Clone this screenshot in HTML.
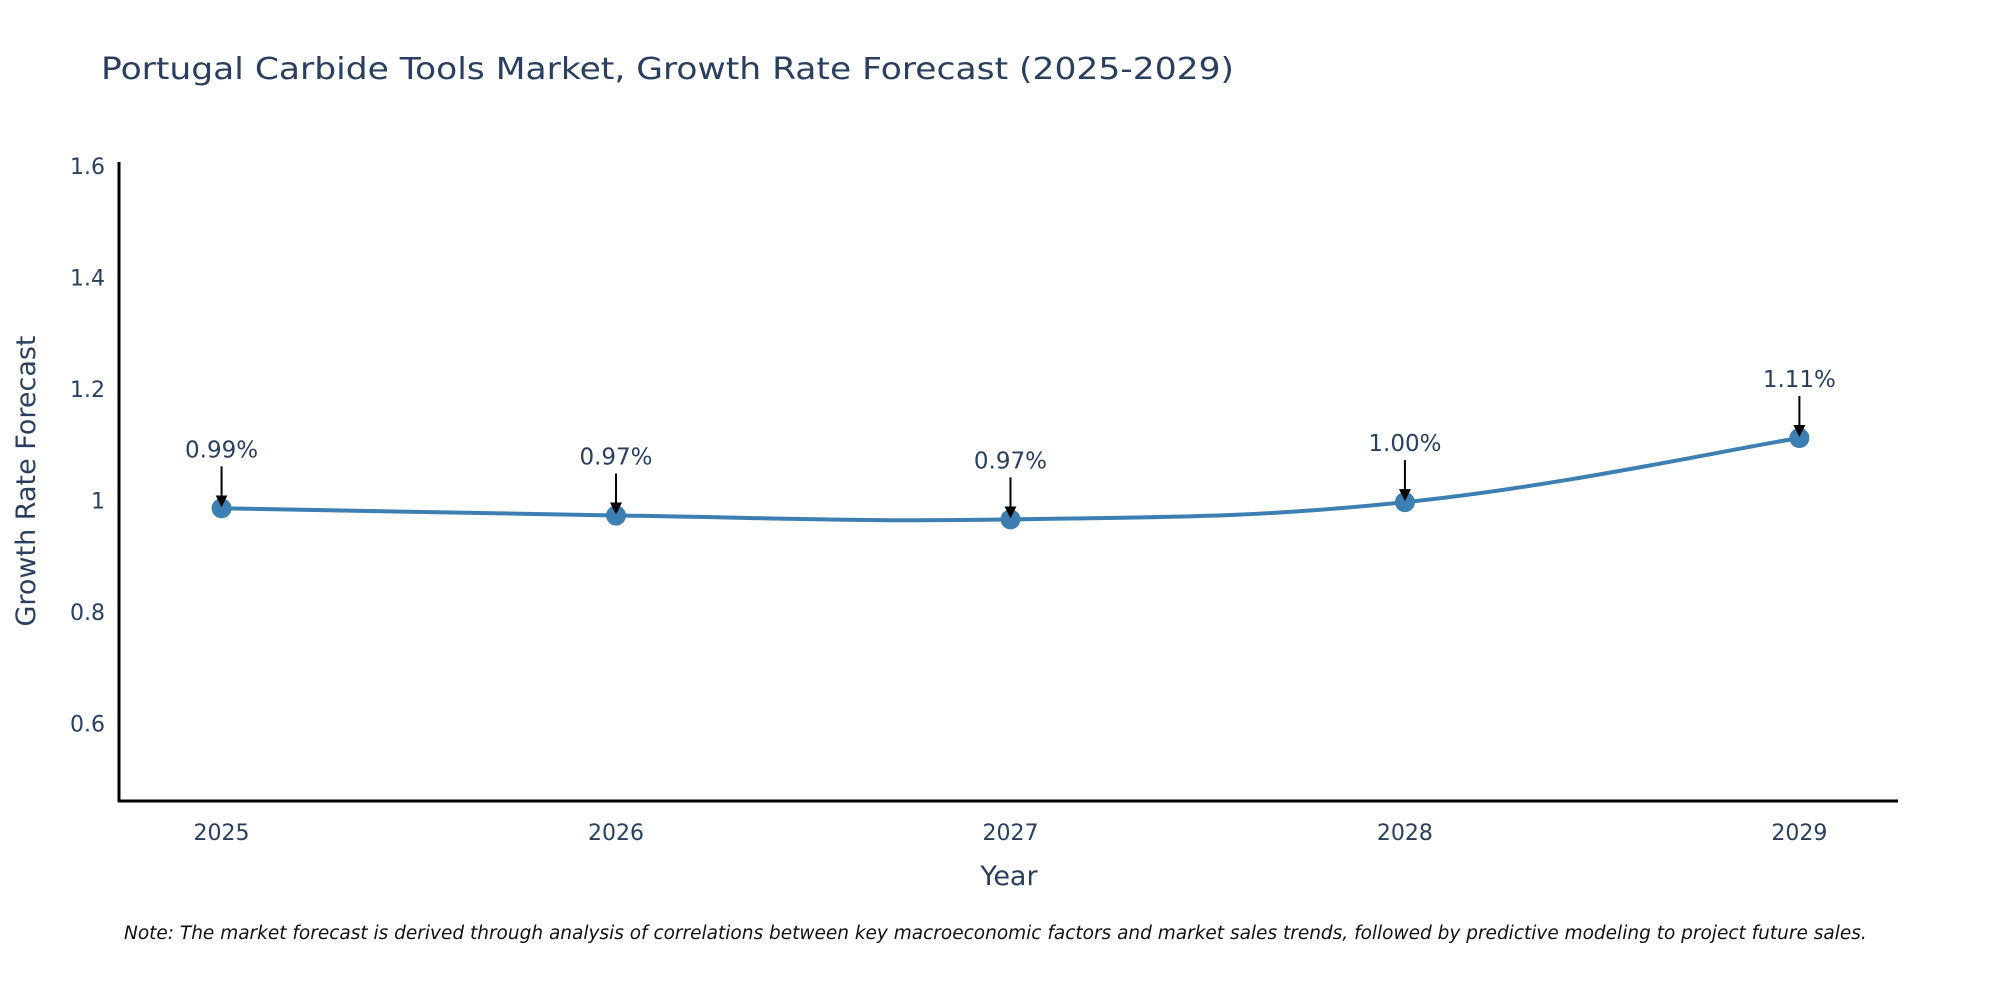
<!DOCTYPE html>
<html><head><meta charset="utf-8"><style>
html,body{margin:0;padding:0;background:#fff;}
svg{display:block;font-family:"DejaVu Sans","Liberation Sans",Arial,sans-serif;}
</style></head><body>
<svg id="chart" width="2000" height="1000" viewBox="0 0 2000 1000" xmlns="http://www.w3.org/2000/svg">
<defs><marker id="ah" markerWidth="12" markerHeight="12" refX="10" refY="6" orient="auto" markerUnits="userSpaceOnUse"><path d="M0,0 L12,6 L0,12 z" fill="#000"/></marker></defs>
<text x="101" y="79" font-size="30" fill="#2a3f5f" textLength="1133" lengthAdjust="spacingAndGlyphs">Portugal Carbide Tools Market, Growth Rate Forecast (2025-2029)</text>
<g id="plot"></g>
<text transform="translate(35,481) rotate(-90)" text-anchor="middle" font-size="27" fill="#2a3f5f">Growth Rate Forecast</text>
<text x="1009" y="885" text-anchor="middle" font-size="27" fill="#2a3f5f">Year</text>
<text x="124" y="939" font-size="18.5" font-style="italic" fill="#111">Note: The market forecast is derived through analysis of correlations between key macroeconomic factors and market sales trends, followed by predictive modeling to project future sales.</text>
</svg>
<script>
const years = [2025, 2026, 2027, 2028, 2029];
const values = [0.986, 0.973, 0.966, 0.997, 1.112];
const valueLabels = ["0.99%", "0.97%", "0.97%", "1.00%", "1.11%"];
const yTicks = [0.6, 0.8, 1, 1.2, 1.4, 1.6];
const yTickLabels = ["0.6", "0.8", "1", "1.2", "1.4", "1.6"];

const NS = "http://www.w3.org/2000/svg";
const g = document.getElementById('plot');
const L = 119, R = 1898, T = 162, B = 801;
const xMin = 2024.74, xMax = 2029.25, yMin = 0.461, yMax = 1.607;
const xS = v => L + (v - xMin) / (xMax - xMin) * (R - L);
const yS = v => B - (v - yMin) / (yMax - yMin) * (B - T);
function mk(tag, attrs) { const e = document.createElementNS(NS, tag); for (const k in attrs) e.setAttribute(k, attrs[k]); g.appendChild(e); return e; }

yTicks.forEach((t, i) => {
  const e = mk('text', {x: L - 14, y: yS(t) + 8, 'text-anchor': 'end', 'font-size': 22, fill: '#2a3f5f'});
  e.textContent = yTickLabels[i];
  
  
});
years.forEach(y => {
  const e = mk('text', {x: xS(y), y: B + 39, 'text-anchor': 'middle', 'font-size': 22, fill: '#2a3f5f'});
  e.textContent = String(y);
  
  
});
const ya = mk('line', {x1: L, y1: T, x2: L, y2: B + 1, stroke: '#000', 'stroke-width': 3});


const xa = mk('line', {x1: L - 1, y1: B, x2: R, y2: B, stroke: '#000', 'stroke-width': 3});



const pts = years.map((y, i) => [xS(y), yS(values[i])]);
let d = 'M' + pts[0][0] + ',' + pts[0][1];
const sm = 0.2;
for (let i = 0; i < pts.length - 1; i++) {
  const p0 = pts[Math.max(0, i - 1)], p1 = pts[i], p2 = pts[i + 1], p3 = pts[Math.min(pts.length - 1, i + 2)];
  const c1 = [p1[0] + (p2[0] - p0[0]) * sm, p1[1] + (p2[1] - p0[1]) * sm];
  const c2 = [p2[0] - (p3[0] - p1[0]) * sm, p2[1] - (p3[1] - p1[1]) * sm];
  d += ' C' + c1 + ' ' + c2 + ' ' + p2;
}
const line = mk('path', {d: d, fill: 'none', stroke: '#3d7fb3', 'stroke-width': 4});



pts.forEach((p, i) => {
  const c = mk('circle', {cx: p[0], cy: p[1], r: 10, fill: '#3d7fb3'});
  
  
  const a = mk('line', {x1: p[0], y1: p[1] - 42, x2: p[0], y2: p[1] - 3, stroke: '#000', 'stroke-width': 2, 'marker-end': 'url(#ah)'});
  
  
  const t = mk('text', {x: p[0], y: p[1] - 51, 'text-anchor': 'middle', 'font-size': 23, fill: '#2a3f5f'});
  t.textContent = valueLabels[i];
  
  
});
</script>
</body></html>
